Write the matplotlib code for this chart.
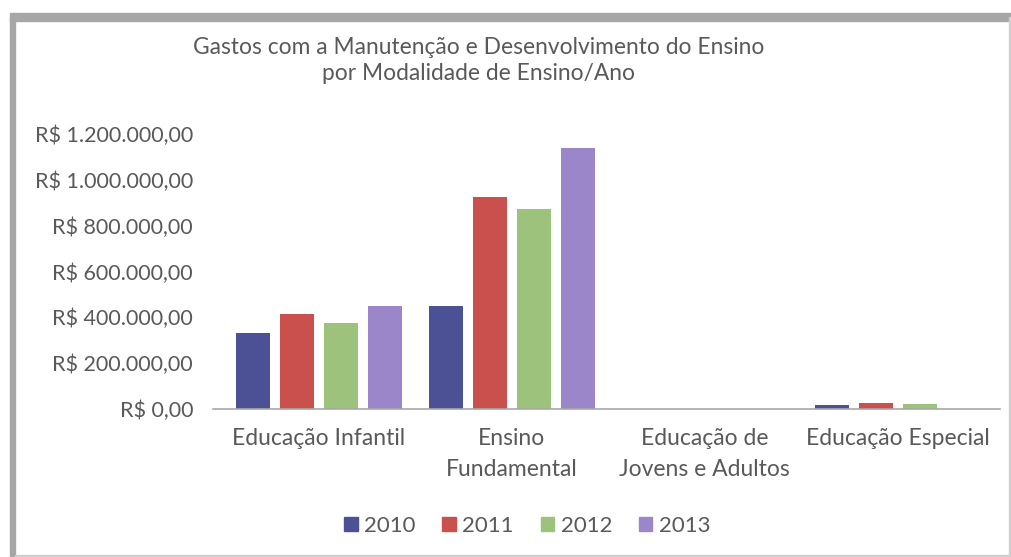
import numpy as np
import matplotlib
matplotlib.use('Agg')
import matplotlib.pyplot as plt
from matplotlib.patches import Rectangle, Patch
from matplotlib.ticker import FuncFormatter

plt.rcParams['font.family'] = ['Lato', 'DejaVu Sans']

# dados
categorias = ['Educação Infantil', 'Ensino\nFundamental',
              'Educação de\nJovens e Adultos', 'Educação Especial']
anos = ['2010', '2011', '2012', '2013']
gastos_2010 = [331000, 448000, 0, 18000]
gastos_2011 = [416000, 925000, 0, 24000]
gastos_2012 = [375000, 875000, 0, 21000]
gastos_2013 = [451000, 1141000, 0, 0]
cores = ['#4b5194', '#c9504d', '#9dc27b', '#9a86c9']

texto = '#595959'

fig = plt.figure(figsize=(10.12, 5.57), dpi=100)

# moldura cinza do recorte
fig.patches.append(Rectangle((0.010, 0.0), 0.005, 0.97, transform=fig.transFigure,
                             color='#a6a6a6', zorder=0))
fig.patches.append(Rectangle((0.010, 0.962), 0.99, 0.014, transform=fig.transFigure,
                             color='#a6a6a6', zorder=0))
fig.patches.append(Rectangle((0.997, 0.0), 0.002, 0.97, transform=fig.transFigure,
                             color='#d0d0d0', zorder=0))
fig.patches.append(Rectangle((0.015, 0.0), 0.985, 0.003, transform=fig.transFigure,
                             color='#d0d0d0', zorder=0))

ax = fig.add_axes([0.21, 0.266, 0.778, 0.493])

x = np.arange(len(categorias))
largura = 0.176
passo = 0.228
series = [gastos_2010, gastos_2011, gastos_2012, gastos_2013]
for i, (valores, cor) in enumerate(zip(series, cores)):
    ax.bar(x + (i - 1.5) * passo, valores, width=largura, color=cor, label=anos[i])

ax.set_xlim(-0.55, 3.53)
ax.set_ylim(0, 1200000)
ax.set_yticks(np.arange(0, 1200001, 200000))


def reais(v, pos):
    s = f'{v:,.2f}'.replace(',', 'X').replace('.', ',').replace('X', '.')
    return 'R$ ' + s


ax.yaxis.set_major_formatter(FuncFormatter(reais))
ax.set_xticks(x)
ax.set_xticklabels(categorias)
ax.tick_params(axis='both', length=0, colors=texto)
ax.tick_params(axis='y', pad=14, labelsize=15.5)
ax.tick_params(axis='x', pad=14, labelsize=16.5)
for lbl in ax.get_xticklabels():
    lbl.set_linespacing(1.6)

for s in ['top', 'right', 'left']:
    ax.spines[s].set_visible(False)
ax.spines['bottom'].set_color('#a8a8a8')
ax.spines['bottom'].set_linewidth(1.2)

fig.text(0.473, 0.892, 'Gastos com a Manutenção e Desenvolvimento do Ensino\npor Modalidade de Ensino/Ano',
         ha='center', va='center', fontsize=16.4, color=texto, linespacing=1.3)

handles = [Patch(color=c) for c in cores]
fig.legend(handles, anos, loc='center', bbox_to_anchor=(0.521, 0.056), ncol=4,
           frameon=False, fontsize=16, labelcolor=texto, handlelength=0.6,
           handleheight=0.6, handletextpad=0.3, columnspacing=1.2)

fig.savefig('out.png', dpi=100)
